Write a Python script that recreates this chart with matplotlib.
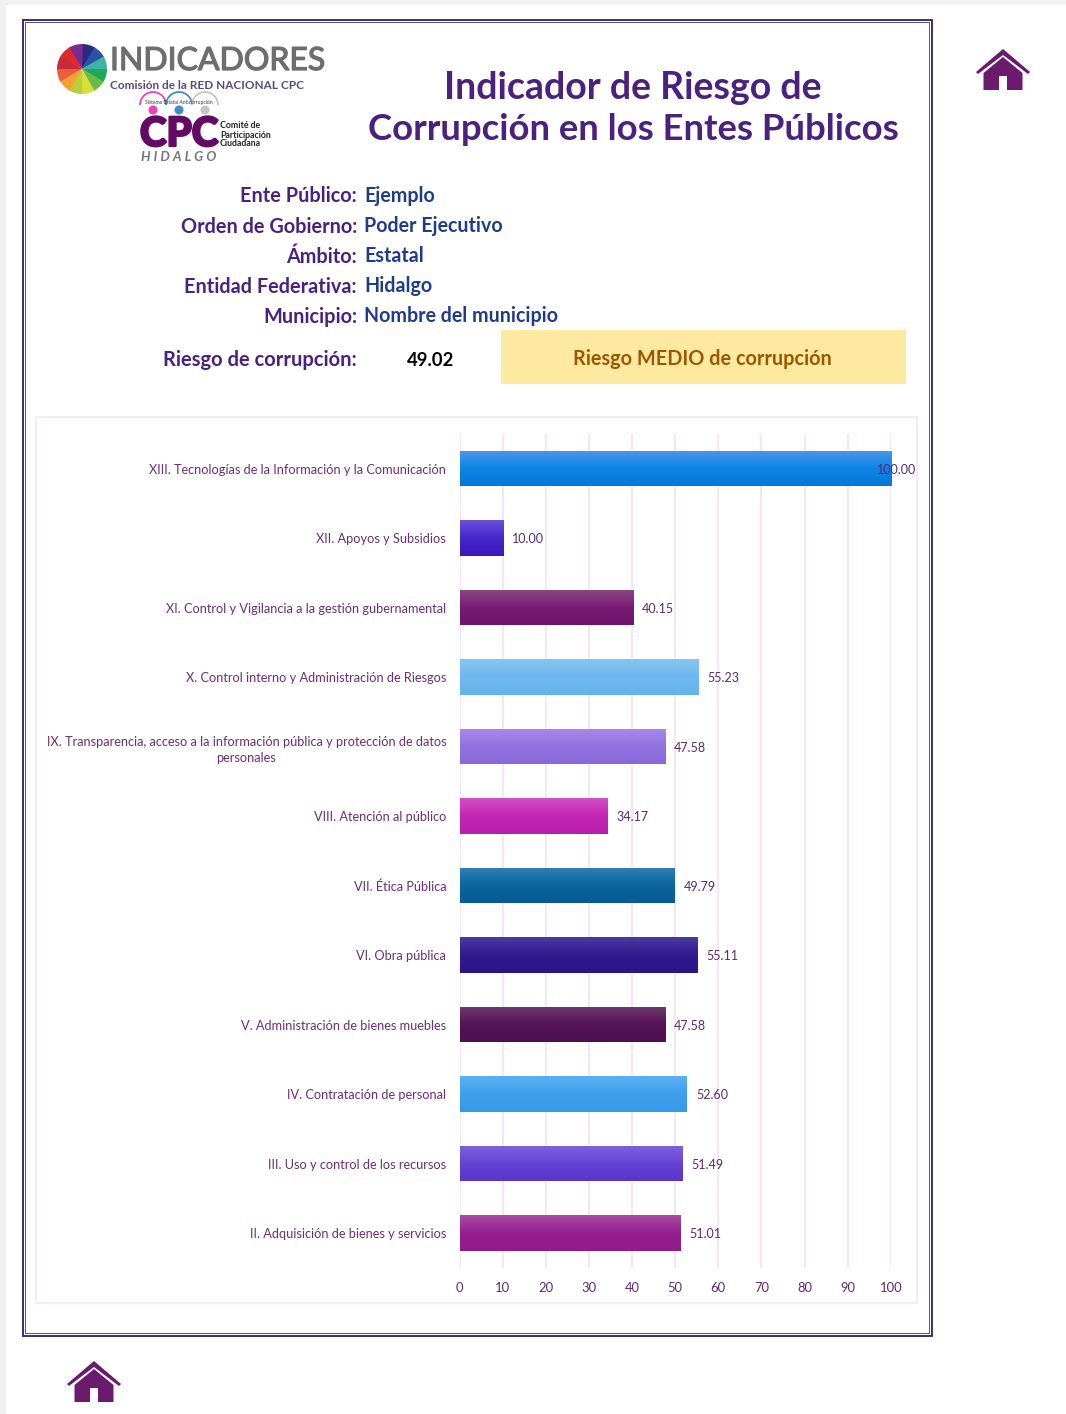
import matplotlib
matplotlib.use('Agg')
import matplotlib.pyplot as plt
import matplotlib.patheffects as pe
from matplotlib.colors import LinearSegmentedColormap
from matplotlib.patches import Polygon, Rectangle, Wedge, Circle, Arc
import numpy as np

plt.rcParams['font.family'] = ['Lato', 'DejaVu Sans']

categories = [
    'II. Adquisición de bienes y servicios',
    'III. Uso y control de los recursos',
    'IV. Contratación de personal',
    'V. Administración de bienes muebles',
    'VI. Obra pública',
    'VII. Ética Pública',
    'VIII. Atención al público',
    'IX. Transparencia, acceso a la información pública y protección de datos\npersonales',
    'X. Control interno y Administración de Riesgos',
    'XI. Control y Vigilancia a la gestión gubernamental',
    'XII. Apoyos y Subsidios',
    'XIII. Tecnologías de la Información y la Comunicación',
]
values = [51.01, 51.49, 52.60, 47.58, 55.11, 49.79, 34.17, 47.58, 55.23, 40.15, 10.00, 100.00]
# top colour, middle colour, bottom colour of each bar
bar_colors = [
    ('#a64d9f', '#951f8e', '#8f1a88'),
    ('#7e62dd', '#6544d6', '#5a35cc'),
    ('#5cb0f2', '#3da0ee', '#359ae8'),
    ('#6e3a6e', '#571357', '#4e0f50'),
    ('#4c3aa0', '#2f1a90', '#2c1488'),
    ('#2f81b5', '#0c659f', '#075a96'),
    ('#d34fc4', '#c327b5', '#b81eab'),
    ('#a68ae8', '#9272e0', '#8a68d8'),
    ('#85c5f3', '#6db8f0', '#66b2ea'),
    ('#884a80', '#7a1b75', '#6e146a'),
    ('#6a50d8', '#4428cc', '#3a17be'),
    ('#4a98ea', '#0f85e6', '#0278d8'),
]

info_labels = ['Ente Público:', 'Orden de Gobierno:', 'Ámbito:', 'Entidad Federativa:', 'Municipio:']
info_values = ['Ejemplo', 'Poder Ejecutivo', 'Estatal', 'Hidalgo', 'Nombre del municipio']
info_y = [196, 227, 257, 287, 317]
score = 49.02
risk_text = 'Riesgo MEDIO de corrupción'
petal_colors = ['#2a2a80', '#2a52a8', '#3fb3a8', '#1fa85a', '#6cbb45', '#d8dd3a', '#b8cf3c',
                '#f2a030', '#e8603a', '#c82a3a', '#e02a2a', '#7a2a90']

PURPLE = '#4b2180'
BLUE = '#1f3c88'
HOME = '#6a1b6e'
TICK = '#5c2a6e'


def draw_home(ax, cx, top):
    # roof chevron and body, sizes
    roof = [(cx - 27, top + 23), (cx, top), (cx + 27, top + 23), (cx + 25, top + 25),
            (cx, top + 6), (cx - 25, top + 25)]
    body = [(cx - 19.5, top + 24), (cx, top + 8), (cx + 19.5, top + 24), (cx + 19.5, top + 41),
            (cx + 4, top + 41), (cx + 4, top + 27), (cx - 4, top + 27), (cx - 4, top + 41),
            (cx - 19.5, top + 41)]
    ax.add_patch(Polygon(roof, closed=True, fc=HOME, ec='none'))
    ax.add_patch(Polygon(body, closed=True, fc=HOME, ec='none'))


def draw_logos(ax):
    # pinwheel
    cx, cy = 82, 69
    for i, c in enumerate(petal_colors):
        start = -90 + i * 30
        ax.add_patch(Wedge((cx, cy), 25, start, start + 32, fc=c, ec='none'))
    ax.text(110, 61, 'INDICADORES', fontsize=23, color='#6e6e6e', va='center', ha='left',
            path_effects=[pe.withStroke(linewidth=0.9, foreground='#6e6e6e')])
    ax.text(110, 85.5, 'Comisión de la RED NACIONAL CPC', fontsize=8.5, color='#5a4a78',
            va='center', ha='left', fontweight='bold')

    ax.text(179, 102.5, 'Sistema Estatal Anticorrupción', fontsize=3.6, color='#333333',
            va='center', ha='center')
    for x, c in [(153, '#f040b8'), (179, '#3f8ccc'), (205, '#c4c4c4')]:
        ax.add_patch(Circle((x, 110), 4.5, fc=c, ec='none'))
        ax.add_patch(Arc((x, 105), 26, 26, theta1=180, theta2=360, ec=c, lw=1.3))
    ax.text(179, 134.5, 'CPC', fontsize=29, color='#640a64', fontweight='black',
            va='center', ha='center',
            path_effects=[pe.withStroke(linewidth=1.6, foreground='#640a64')])
    for y, s in [(126, 'Comité de'), (135, 'Participación'), (144, 'Ciudadana')]:
        ax.text(220, y, s, fontsize=6.3, color='#222222', fontweight='bold', va='center', ha='left')
    ax.text(179, 157, '\u2009\u2009'.join('HIDALGO'), fontsize=9.6, color='#777777',
            fontweight='bold', style='italic', va='center', ha='center')


def main() -> None:
    fig = plt.figure(figsize=(10.66, 14.14), dpi=100, facecolor='white')

    # page layer in pixel coordinates
    bg = fig.add_axes([0, 0, 1, 1])
    bg.set_xlim(0, 1066)
    bg.set_ylim(1414, 0)
    bg.axis('off')

    bg.add_patch(Rectangle((0, 0), 1066, 5, fc='#f1f1f1', ec='none'))
    bg.add_patch(Rectangle((0, 0), 6, 1414, fc='#f1f1f1', ec='none'))

    # double frame
    bg.add_patch(Rectangle((22.5, 19.5), 909, 1316, fc='none', ec='#3a2f78', lw=1.4))
    bg.add_patch(Rectangle((25, 22), 904, 1311, fc='none', ec='#3a2f78', lw=0.6))

    draw_logos(bg)
    draw_home(bg, 1003, 49)
    draw_home(bg, 94, 1361)

    bg.text(633, 88, 'Indicador de Riesgo de', fontsize=27, fontweight='bold', color=PURPLE,
            ha='center', va='center')
    bg.text(633, 129, 'Corrupción en los Entes Públicos', fontsize=26.3, fontweight='bold',
            color=PURPLE, ha='center', va='center')

    for lab, val, y in zip(info_labels, info_values, info_y):
        bg.text(357, y, lab, fontsize=14.3, fontweight='bold', color=PURPLE, ha='right', va='center')
        bg.text(364, y - 0.5, val, fontsize=14.1, fontweight='bold', color=BLUE, ha='left', va='center')

    bg.text(357, 360, 'Riesgo de corrupción:', fontsize=14.5, fontweight='bold', color=PURPLE,
            ha='right', va='center')
    bg.text(454, 360, f'{score:.2f}', fontsize=13.3, fontweight='bold', color='black',
            ha='right', va='center')
    bg.add_patch(Rectangle((501, 330), 405, 54, fc='#fee9a0', ec='none'))
    bg.text(702.5, 359, risk_text, fontsize=14.3, fontweight='bold', color='#9c5700',
            ha='center', va='center')

    # chart box
    bg.add_patch(Rectangle((36, 417), 881, 886, fc='white', ec='#f2e6f3', lw=1.1))

    # plot area: x 0 -> 459.5 px, x 100 -> 891 px, rows from 434 to 1268 px
    ax = fig.add_axes([459.5 / 1066, 1 - 1267.8 / 1414, (890.8 - 459.5) / 1066, (1267.8 - 433.8) / 1414])
    ax.patch.set_alpha(0)
    ax.set_axisbelow(True)
    ax.grid(axis='x', color='#f0dff2', lw=1.1)
    for s in ax.spines.values():
        s.set_visible(False)
    ax.set_xticks(np.arange(0, 101, 10))
    ax.set_yticks(range(len(categories)))
    ax.set_yticklabels(categories, multialignment='center', linespacing=1.45)
    ax.tick_params(axis='x', length=0, pad=10, labelsize=9.4, labelcolor=TICK)
    ax.tick_params(axis='y', length=0, pad=9.6, labelsize=9.15, labelcolor='#6b2f74')

    bars = ax.barh(range(len(values)), values, height=0.515, color='none', edgecolor='none')
    for bar, cols, v in zip(bars, bar_colors, values):
        cmap = LinearSegmentedColormap.from_list('b', cols)
        grad = np.linspace(0, 1, 64).reshape(-1, 1)
        y0 = bar.get_y()
        im = ax.imshow(grad, cmap=cmap, aspect='auto', origin='upper', zorder=2,
                       extent=(0, v, y0, y0 + bar.get_height()))
        im.set_clip_path(bar)
        ax.text(v + 2.2, bar.get_y() + bar.get_height() / 2 - 0.015, f'{v:.2f}', fontsize=9,
                color='#5c2a6e', va='center', ha='left', zorder=3, clip_on=False)
    ax.set_xlim(0, 100)
    ax.set_ylim(-0.5, len(values) - 0.5)
    ax.texts[-1].set_x(96.7)

    fig.savefig('out.png', dpi=100)


if __name__ == "__main__":
    main()
